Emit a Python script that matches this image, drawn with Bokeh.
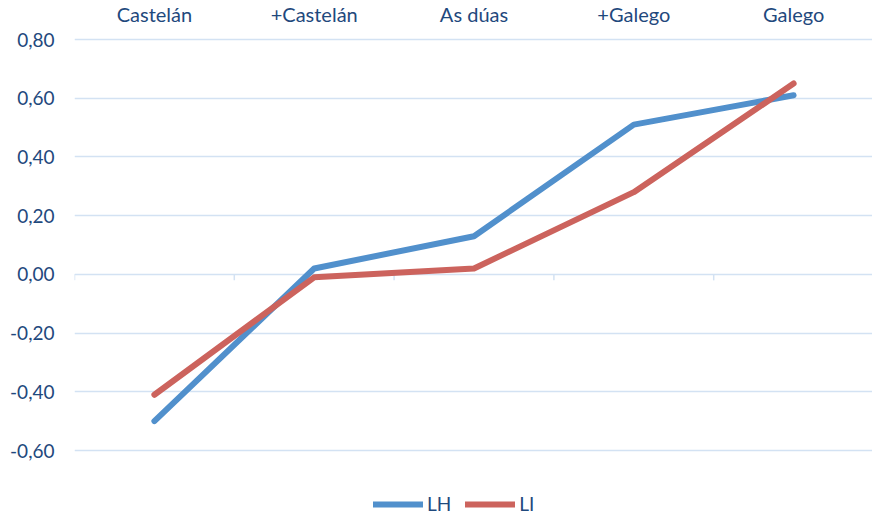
from bokeh.plotting import figure
from bokeh.models import (Range1d, FixedTicker, Legend, LegendItem)
from bokeh.core.properties import value
from bokeh.embed import file_html
from bokeh.resources import INLINE

categories = ["Castelán", "+Castelán", "As dúas", "+Galego", "Galego"]
lh = [-0.50, 0.02, 0.13, 0.51, 0.61]
li = [-0.41, -0.01, 0.02, 0.28, 0.65]
y_ticks = [-0.6, -0.4, -0.2, 0.0, 0.2, 0.4, 0.6, 0.8]
y_labels = ["-0,60", "-0,40", "-0,20", "0,00", "0,20", "0,40", "0,60", "0,80"]

TEXT = "#1F497D"
GRID = "#d3e2f3"
BLUE = "#5190cc"
RED = "#cc635d"
FONT = "Lato"

W, H = 872, 516
LEFT = 74                        # frame left edge (px)
TOP_GRID = 39                    # px from figure top to the top gridline
PX_PER_UNIT = 411 / 1.4          # vertical scale (pixels per data unit)
PX_PER_CAT = 159.8               # horizontal width of one category

n = len(categories)
xs = [i + 0.5 for i in range(n)]
x_end = (W - LEFT) / PX_PER_CAT
y_top = y_ticks[-1] + TOP_GRID / PX_PER_UNIT
y_bottom = y_top - H / PX_PER_UNIT

p = figure(width=W, height=H, output_backend="svg", toolbar_location=None,
           x_range=Range1d(0, x_end), y_range=Range1d(y_bottom, y_top),
           x_axis_location=None, min_border_left=LEFT, min_border_right=0,
           min_border_top=0, min_border_bottom=0)
p.outline_line_color = None
p.xgrid.visible = False
p.ygrid.ticker = FixedTicker(ticks=y_ticks)
p.ygrid.grid_line_color = GRID
p.ygrid.grid_line_width = 1.5

# y axis
ya = p.yaxis[0]
ya.ticker = FixedTicker(ticks=y_ticks)
ya.major_label_overrides = {t: l for t, l in zip(y_ticks, y_labels)}
ya.axis_line_color = None
ya.major_tick_line_color = None
ya.minor_tick_line_color = None
ya.major_label_text_font = FONT
ya.major_label_text_font_size = "19px"
ya.major_label_text_color = TEXT
ya.major_label_standoff = 14

# category labels along the top
label_y = y_ticks[-1] + 26 / PX_PER_UNIT
p.text(x=xs, y=[label_y] * n, text=categories, text_align="center",
       text_baseline="middle", text_font=value(FONT),
       text_font_size="20px", text_color=TEXT)

# category boundary ticks on the zero line
bounds = list(range(n + 1))
tick_len = 6 / PX_PER_UNIT
p.segment(x0=bounds, y0=[0] * len(bounds), x1=bounds, y1=[-tick_len] * len(bounds),
          line_color=GRID, line_width=1.5)

r1 = p.line(xs, lh, line_color=BLUE, line_width=6, line_cap="round", line_join="round")
r2 = p.line(xs, li, line_color=RED, line_width=6, line_cap="round", line_join="round")

legend = Legend(items=[LegendItem(label="LH", renderers=[r1]),
                       LegendItem(label="LI", renderers=[r2])],
                orientation="horizontal", location=(299, 1))
legend.border_line_color = None
legend.background_fill_alpha = 0
legend.padding = 0
legend.margin = 0
legend.spacing = 14
legend.glyph_width = 50
legend.glyph_height = 14
legend.label_standoff = 4
legend.label_height = 18
legend.label_text_font = FONT
legend.label_text_font_size = "19px"
legend.label_text_color = TEXT
p.add_layout(legend, "center")

open("out.html", "w").write(file_html(p, INLINE))
